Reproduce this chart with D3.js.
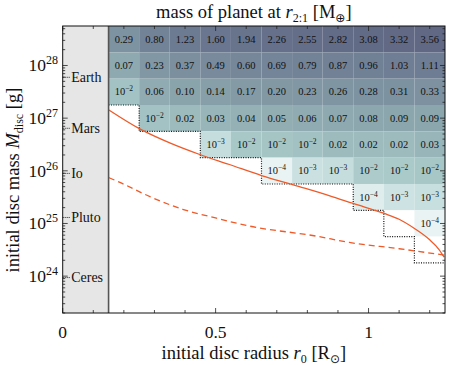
<!DOCTYPE html>
<html><head><meta charset="utf-8">
<script src="https://cdn.jsdelivr.net/npm/d3@7"></script>
<style>body{margin:0;background:#fff}svg{display:block}text{font-family:"Liberation Serif","DejaVu Serif",serif;fill:#111}</style>
</head><body><svg id="c" width="450" height="365"></svg>
<script>
// ---- data ----
const r0 = [0.2,0.3,0.4,0.5,0.6,0.7,0.8,0.9,1.0,1.1,1.2];          // column centres [R_sun]
const logMdisc = [28.5,28,27.5,27,26.5,26,25.5,25,24.5,24];          // row centres log10(g)
const planetMass = [
 [0.29,0.80,1.23,1.60,1.94,2.26,2.55,2.82,3.08,3.32,3.56],
 [0.07,0.23,0.37,0.49,0.60,0.69,0.79,0.87,0.96,1.03,1.11],
 [0.012,0.06,0.10,0.14,0.17,0.20,0.23,0.26,0.28,0.31,0.33],
 [null,0.012,0.02,0.03,0.04,0.05,0.06,0.07,0.08,0.09,0.09],
 [null,null,null,0.0012,0.008,0.010,0.013,0.02,0.02,0.02,0.03],
 [null,null,null,null,null,0.0001,0.0008,0.0012,0.006,0.007,0.009],
 [null,null,null,null,null,null,null,null,0.0002,0.0007,0.001],
 [null,null,null,null,null,null,null,null,null,0.00001,0.0001],
 [null,null,null,null,null,null,null,null,null,null,0.00001],
 [null,null,null,null,null,null,null,null,null,null,null]
];
const bodyNames = ["Earth","Mars","Io","Pluto","Ceres"];
const bodyMass = [5.97e27,6.42e26,8.93e25,1.30e25,9.39e23];
const solidR = [0.151,0.252,0.350,0.448,0.545,0.650,0.774,0.871,0.950,1.051,1.100,1.149,1.198,1.230,1.247];
const solidLogM = [27.155,26.796,26.53,26.31,26.12,25.91,25.70,25.53,25.38,25.19,25.08,24.91,24.70,24.51,24.36];
const dashR = [0.151,0.187,0.285,0.392,0.503,0.611,0.829,0.937,1.10,1.247];
const dashLogM = [25.87,25.78,25.51,25.27,25.10,24.95,24.76,24.64,24.52,24.40];
const xMajor = [0,0.5,1];
const xMinorStep = 0.1;
const yMajorExp = [24,25,26,27,28];
const innerEdge = 0.15;

// ---- layout ----
const svg = d3.select("#c");
const L=62.7,R=445,T=26,B=313;
const x = d3.scaleLinear([0,1.25],[L,R]);
const y = d3.scaleLog([Math.pow(10,23.3),Math.pow(10,28.75)],[B,T]);
const col = d3.scaleLinear([-5,-4,-3,-2,-1,0,0.6],["#ffffff","#eaf3f3","#c8dfdf","#a5c5c5","#8aa4ab","#707f95","#5f6682"]).clamp(true);

// gray inner region
svg.append("rect").attr("x",x(0)).attr("y",T).attr("width",x(innerEdge)-x(0)).attr("height",B-T).attr("fill","#e6e6e6");

// cells
const cells=[];
planetMass.forEach((row,i)=>row.forEach((v,j)=>{ if(v!==null) cells.push({i,j,v}); }));
svg.append("g").selectAll("rect").data(cells).join("rect")
 .attr("x",d=>x(r0[d.j]-0.05)).attr("width",d=>x(r0[d.j]+0.05)-x(r0[d.j]-0.05))
 .attr("y",d=>y(Math.pow(10,logMdisc[d.i]+0.25))).attr("height",d=>y(Math.pow(10,logMdisc[d.i]-0.25))-y(Math.pow(10,logMdisc[d.i]+0.25)))
 .attr("fill",d=>col(Math.log10(d.v)));

// cell labels
const lab = svg.append("g").selectAll("text").data(cells.filter(d=>d.v>=5e-5)).join("text")
 .attr("x",d=>x(r0[d.j])).attr("y",d=>y(Math.pow(10,logMdisc[d.i]))+3.6)
 .attr("text-anchor","middle").attr("font-size",10.5).attr("fill","#222");
lab.each(function(d){
  const t=d3.select(this);
  if(d.v>=0.015){ t.text(d.v.toFixed(2)); }
  else { t.append("tspan").text("10"); t.append("tspan").attr("dy",-4).attr("font-size",7.5).text("\u2212"+(-Math.round(Math.log10(d.v)))); }
});

// dotted boundary
const pts=[];
r0.forEach((r,j)=>{
  let last=-1; planetMass.forEach((row,i)=>{ if(row[j]!==null) last=i; });
  const yy=y(Math.pow(10,logMdisc[last]-0.25));
  pts.push([x(r-0.05),yy],[x(r+0.05),yy]);
});
svg.append("path").attr("d",d3.line().curve(d3.curveStepAfter)(pts.filter((p,k)=>k%2===0).concat([pts[pts.length-1]])))
 .attr("fill","none").attr("stroke","#111").attr("stroke-width",1.2).attr("stroke-dasharray","1,1.4");

// curves
const ln = d3.line().x(d=>x(d[0])).y(d=>y(Math.pow(10,d[1]))).curve(d3.curveMonotoneX);
svg.append("path").attr("d",ln(solidR.map((r,k)=>[r,solidLogM[k]]))).attr("fill","none").attr("stroke","#ee5a28").attr("stroke-width",1.3);
svg.append("path").attr("d",ln(dashR.map((r,k)=>[r,dashLogM[k]]))).attr("fill","none").attr("stroke","#ee5a28").attr("stroke-width",1.3).attr("stroke-dasharray","6,4");

// inner edge line
svg.append("line").attr("x1",x(innerEdge)).attr("x2",x(innerEdge)).attr("y1",T).attr("y2",B).attr("stroke","#555").attr("stroke-width",1.6);

// body markers
const bg = svg.append("g");
bodyNames.forEach((n,k)=>{
  const yy=y(bodyMass[k]);
  bg.append("line").attr("x1",L).attr("x2",L+8).attr("y1",yy).attr("y2",yy).attr("stroke","#222").attr("stroke-width",1).attr("stroke-dasharray","1,1");
  bg.append("text").attr("x",L+8.5).attr("y",yy+4.5).attr("font-size",14).text(n);
});

// ticks
const tg = svg.append("g").attr("stroke","#222").attr("stroke-width",0.8);
d3.range(0,1.25+1e-9,xMinorStep).forEach(v=>{
  const maj = xMajor.some(m=>Math.abs(m-v)<1e-6); const len=maj?5:3;
  tg.append("line").attr("x1",x(v)).attr("x2",x(v)).attr("y1",B).attr("y2",B-len);
  tg.append("line").attr("x1",x(v)).attr("x2",x(v)).attr("y1",T).attr("y2",T+len);
});
y.ticks(60).forEach(v=>{
  const e=Math.log10(v); const maj=Math.abs(e-Math.round(e))<1e-6; const len=maj?5:2.5;
  tg.append("line").attr("x1",L).attr("x2",L+len).attr("y1",y(v)).attr("y2",y(v));
  tg.append("line").attr("x1",R).attr("x2",R-len).attr("y1",y(v)).attr("y2",y(v));
});

// frame
svg.append("rect").attr("x",L).attr("y",T).attr("width",R-L).attr("height",B-T).attr("fill","none").attr("stroke","#111").attr("stroke-width",1);

// tick labels
svg.append("g").selectAll("text").data(xMajor).join("text").attr("x",d=>x(d)).attr("y",338).attr("text-anchor","middle").attr("font-size",17.5).text(d=>d);
const yl = svg.append("g").selectAll("text").data(yMajorExp).join("text").attr("x",58).attr("y",d=>y(Math.pow(10,d))+6).attr("text-anchor","end").attr("font-size",17.5);
yl.append("tspan").text("10");
yl.append("tspan").attr("dy",-7).attr("font-size",12).text(d=>d);

// titles
const ti = svg.append("text").attr("x",(L+R)/2).attr("y",18).attr("text-anchor","middle").attr("font-size",18.5);
ti.append("tspan").text("mass of planet at ");
ti.append("tspan").attr("font-style","italic").text("r");
ti.append("tspan").attr("dy",3.5).attr("font-size",12).text("2:1");
ti.append("tspan").attr("dy",-3.5).text(" [M");
ti.append("tspan").attr("dy",3.5).attr("font-size",12).attr("font-family","DejaVu Sans").text("\u2295");
ti.append("tspan").attr("dy",-3.5).text("]");

const xl = svg.append("text").attr("x",(L+R)/2).attr("y",359).attr("text-anchor","middle").attr("font-size",18.5);
xl.append("tspan").text("initial disc radius ");
xl.append("tspan").attr("font-style","italic").text("r");
xl.append("tspan").attr("dy",3.5).attr("font-size",12).text("0");
xl.append("tspan").attr("dy",-3.5).text(" [R");
xl.append("tspan").attr("dy",3.5).attr("font-size",12).attr("font-family","DejaVu Sans").text("\u2299");
xl.append("tspan").attr("dy",-3.5).text("]");

const ylab = svg.append("text").attr("transform","translate(19,180) rotate(-90)").attr("text-anchor","middle").attr("font-size",18.5);
ylab.append("tspan").text("initial disc mass ");
ylab.append("tspan").attr("font-style","italic").text("M");
ylab.append("tspan").attr("dy",3.5).attr("font-size",12).text("disc");
ylab.append("tspan").attr("dy",-3.5).text(" [g]");
</script></body></html>
